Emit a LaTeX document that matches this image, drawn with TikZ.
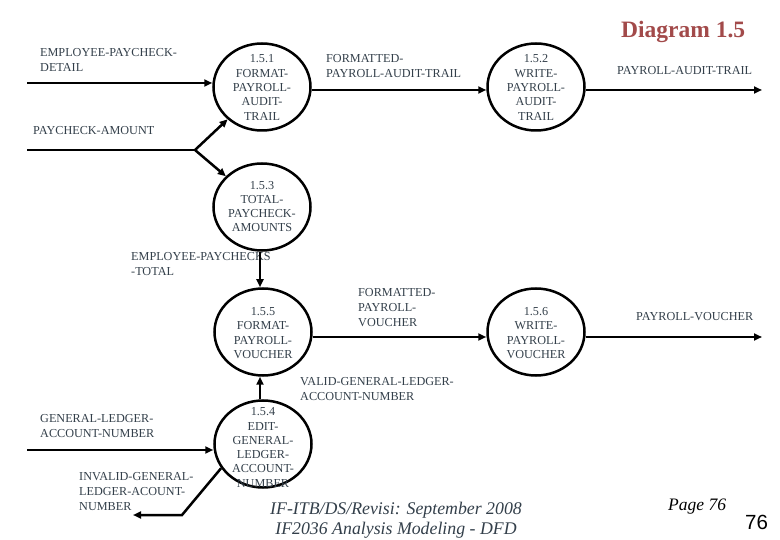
\documentclass[tikz,border=0pt]{standalone}
\usepackage{fontspec}
\setmainfont{Liberation Serif}
\newfontfamily\arialf{Liberation Sans}
\usetikzlibrary{shapes.geometric,arrows.meta}
\definecolor{txt}{HTML}{333F4A}
\definecolor{ttl}{HTML}{A24A4A}
\begin{document}
\begin{tikzpicture}[x=1pt,y=-1pt,
 proc/.style={ellipse,draw=black,line width=2.5pt,minimum width=97pt,minimum height=87pt,inner sep=0pt},
 ptext/.style={align=center,text=txt,font=\fontsize{12.2}{14.3}\selectfont,inner sep=0pt},
 lbl/.style={anchor=west,align=left,text=txt,font=\fontsize{12.2}{15}\selectfont,inner sep=0pt},
 flow/.style={line width=2.5pt,-{Triangle[length=8pt,width=7pt]}},
 seg/.style={line width=2.5pt}]
\useasboundingbox (0,0) rectangle (780,540);
% processes
\node[proc] (p1) at (262,87) {};
\node[ptext] (t1) at (262,87.5) {1.5.1\\FORMAT-\\PAYROLL-\\AUDIT-\\TRAIL};
\node[proc] (p2) at (536,87) {};
\node[ptext] (t2) at (536,87.5) {1.5.2\\WRITE-\\PAYROLL-\\AUDIT-\\TRAIL};
\node[proc] (p3) at (262,207) {};
\node[ptext] (t3) at (262,206.5) {1.5.3\\TOTAL-\\PAYCHECK-\\AMOUNTS};
\node[proc] (p5) at (263,332) {};
\node[ptext] (t5) at (263,333) {1.5.5\\FORMAT-\\PAYROLL-\\VOUCHER};
\node[proc] (p6) at (536,332) {};
\node[ptext] (t6) at (536,333) {1.5.6\\WRITE-\\PAYROLL-\\VOUCHER};
\node[proc] (p4) at (263,444) {};
\node[ptext] (t4) at (263,447.5) {1.5.4\\EDIT-\\GENERAL-\\LEDGER-\\ACCOUNT-\\NUMBER};
% labels
\node[lbl] (l1) at (40,60) {EMPLOYEE-PAYCHECK-\\DETAIL};
\node[lbl] (l2) at (33,131) {PAYCHECK-AMOUNT};
\node[lbl] (l3) at (326,66) {FORMATTED-\\PAYROLL-AUDIT-TRAIL};
\node[lbl] (l4) at (617,71) {PAYROLL-AUDIT-TRAIL};
\node[lbl] (l5) at (131,264) {EMPLOYEE-PAYCHECKS\\-TOTAL};
\node[lbl] (l6) at (358,308) {FORMATTED-\\PAYROLL-\\VOUCHER};
\node[lbl] (l7) at (636,317) {PAYROLL-VOUCHER};
\node[lbl] (l8) at (300,389) {VALID-GENERAL-LEDGER-\\ACCOUNT-NUMBER};
\node[lbl] (l9) at (40,426.5) {GENERAL-LEDGER-\\ACCOUNT-NUMBER};
\node[lbl] (l10) at (79,492) {INVALID-GENERAL-\\LEDGER-ACOUNT-\\NUMBER};
% title and footer
\node[anchor=west,text=ttl,font=\fontsize{23.5}{25}\selectfont\bfseries,inner sep=0pt] (title) at (621,32) {Diagram 1.5};
\node[font=\itshape\fontsize{17.8}{20}\selectfont,text=txt,inner sep=0pt] (f1) at (396,510) {IF-ITB/DS/Revisi: September 2008};
\node[font=\itshape\fontsize{17.8}{20}\selectfont,text=txt,inner sep=0pt] (f2) at (396,530) {IF2036 Analysis Modeling - DFD};
\node[anchor=west,font=\itshape\fontsize{17.5}{19}\selectfont,text=black,inner sep=0pt] (pg) at (668,507) {Page 76};
\node[anchor=west,font=\arialf\fontsize{20.5}{22}\selectfont,text=black,inner sep=0pt] (num) at (745,522) {76};
% connectors
\coordinate (a1) at (27,83);
\draw[flow] (a1) -- (p1.west |- a1);
\coordinate (a2) at (27,150);
\coordinate (sp) at (195,150);
\draw[seg] (a2) -- (sp);
\draw[flow] (sp) -- (p1);
\draw[flow] (sp) -- (p3);
\coordinate (o1) at (762,90);
\draw[flow] (p1.east |- o1) -- (p2.west |- o1);
\draw[flow] (p2.east |- o1) -- (o1);
\coordinate (vx) at (260,0);
\draw[flow] (p3.south -| vx) -- (p5.north -| vx);
\draw[flow] (p4.north -| vx) -- (p5.south -| vx);
\coordinate (o2) at (762,337);
\draw[flow] (p5.east |- o2) -- (p6.west |- o2);
\draw[flow] (p6.east |- o2) -- (o2);
\coordinate (a3) at (27,450);
\draw[flow] (a3) -- (p4.west |- a3);
\coordinate (b4) at (182,515);
\coordinate (o3) at (133,515);
\draw[flow] (p4.210) -- (b4) -- (o3);
\end{tikzpicture}
\end{document}
